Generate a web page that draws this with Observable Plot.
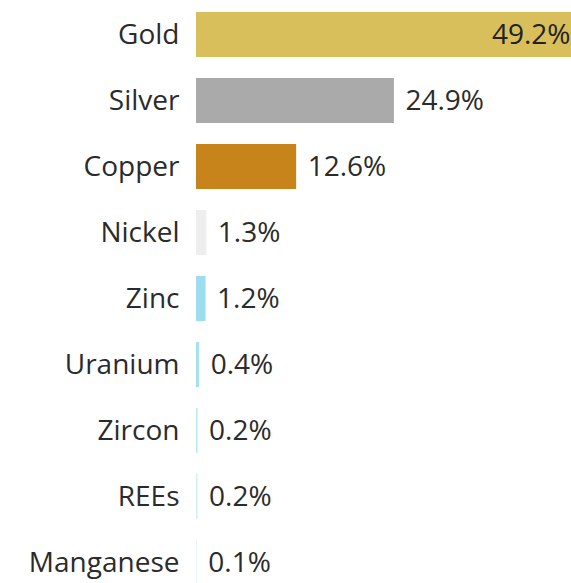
<!DOCTYPE html>
<html>
<head>
<meta charset="utf-8">
<script src="https://cdn.jsdelivr.net/npm/d3@7"></script>
<script src="https://cdn.jsdelivr.net/npm/@observablehq/plot@0.6"></script>
<style>
  html, body { margin: 0; padding: 0; background: #fff; }
  #chart { width: 571px; height: 583px; overflow: hidden; }
  #chart svg { overflow: hidden; }
</style>
</head>
<body>
<div id="chart"></div>
<script>
const minerals = ["Gold", "Silver", "Copper", "Nickel", "Zinc", "Uranium", "Zircon", "REEs", "Manganese"];
const shares = [49.2, 24.9, 12.6, 1.3, 1.2, 0.4, 0.2, 0.2, 0.1];
const colors = ["#d9bf5b", "#aaaaaa", "#c7841a", "#eeeeee", "#9edcf0", "#a6e0f2", "#bfe8f5", "#d2eff8", "#e4f5fb"];

const data = minerals.map((m, i) => ({mineral: m, share: shares[i], color: colors[i]}));
const maxShare = d3.max(shares);

const chart = Plot.plot({
  width: 571,
  height: 583,
  marginLeft: 196,
  marginRight: 0,
  marginTop: 0,
  marginBottom: 0,
  style: {fontFamily: "'Open Sans', sans-serif", fontSize: "28px", color: "#2b2b2b", background: "#fff"},
  x: {domain: [0, maxShare], range: [196, 587], axis: null},
  y: {domain: minerals, range: [-0.4, 597.2], paddingInner: 0.32, paddingOuter: 0.16, label: null},
  marks: [
    Plot.barX(data, {x: "share", y: "mineral", fill: "color"}),
    Plot.axisY({tickSize: 0, tickPadding: 17, fontSize: 28, fill: "#2b2b2b", label: null}),
    Plot.text(data.filter(d => d.share === maxShare), {
      x: "share", y: "mineral", text: d => d.share.toFixed(1) + "%",
      textAnchor: "end", dx: -17, fill: "#222", fontSize: 28
    }),
    Plot.text(data.filter(d => d.share !== maxShare), {
      x: "share", y: "mineral", text: d => d.share.toFixed(1) + "%",
      textAnchor: "start", dx: 11, fill: "#2b2b2b", fontSize: 28
    })
  ]
});
document.getElementById("chart").appendChild(chart);
</script>
</body>
</html>
